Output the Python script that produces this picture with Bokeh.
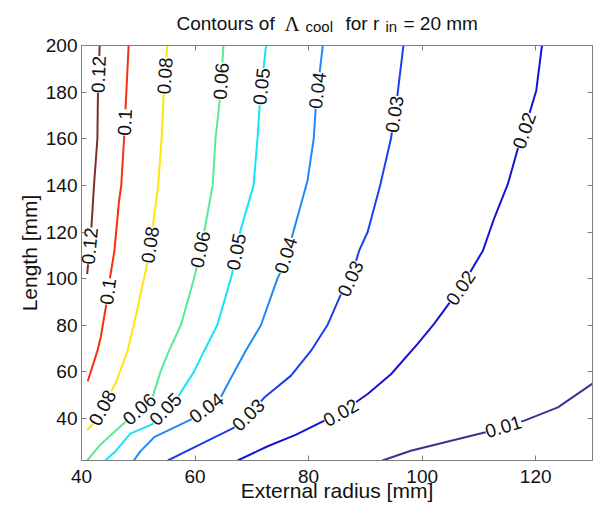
import numpy as np
from bokeh.plotting import figure
from bokeh.layouts import column
from bokeh.models import Range1d, LinearAxis, FixedTicker, ColumnDataSource, LabelSet
from bokeh.embed import file_html
from bokeh.resources import INLINE
from bokeh.core.properties import value

# ---------------- data ----------------
levels = ["0.01", "0.02", "0.03", "0.04", "0.05", "0.06", "0.08", "0.1", "0.12"]
level_colors = ["#35358f", "#1414d2", "#1b3fef", "#1f8af2", "#14e4f8",
                "#55eb95", "#fde60a", "#f5300f", "#7a3030"]

c001_x = [93.0, 98.0, 105.1, 111.0, 114.3, 118.0, 123.9, 130.0]
c001_y = [22, 26.2, 30.5, 34, 36.5, 39.1, 44.8, 55]

c002_x = [67.5, 72.7, 77.7, 82.7, 85.7, 90.4, 94.5, 99.2, 102.1, 105.1, 106.8,
          110.7, 112.7, 115.1, 117.1, 118.0, 120.1, 121.1]
c002_y = [22, 28, 33, 39, 42.5, 50.5, 59, 72, 80.6, 90.6, 96,
          112, 126, 140.6, 158, 163.5, 180.7, 200]

c003_x = [55.2, 61.0, 66.8, 69.4, 72.2, 76.9, 80.4, 83.3, 85.7, 87.4, 88.9,
          90.4, 92.6, 94.5, 95.6, 96.7]
c003_y = [22, 29, 36, 41.5, 49, 58.4, 69, 80, 93.4, 100, 112,
          120, 140, 160, 178, 200]

c004_x = [49.2, 50.4, 52.8, 56.2, 59.6, 62.0, 64.5, 66.9, 68.9, 71.6, 74.5,
          75.1, 77.2, 79.8, 80.9, 81.3, 82.5]
c004_y = [22, 26, 32, 36, 40, 44.5, 49, 60, 69, 80, 100,
          103, 119, 142, 160, 175, 200]

c005_x = [44.2, 46.0, 48.6, 52.5, 54.8, 56.9, 59.8, 61.6, 63.9, 66.3, 66.6,
          68.0, 70.3, 71.0, 71.4, 72.5]
c005_y = [22, 26, 33.5, 37.6, 44, 49, 60, 69, 80, 100, 103,
          120.6, 140, 160, 175, 200]

c006_x = [41.0, 43.4, 46.6, 50.2, 52.5, 53.9, 55.4, 57.5, 59.8, 60.4, 61.6,
          63.1, 63.6, 64.5, 65.0]
c006_y = [22, 29, 36, 44, 49, 60, 69, 80, 100, 106, 120,
          140, 160, 180, 200]

c008_x = [41.0, 42.5, 43.7, 46.0, 48.1, 49.2, 51.0, 51.7, 52.5, 53.5, 54.1, 54.5, 55.1]
c008_y = [35, 39, 44.6, 55, 69, 80, 100, 108, 121.5, 140, 160, 180, 200]

c010_x = [41.1, 42.8, 43.4, 44.3, 45.0, 45.8, 46.6, 47.0, 47.5, 47.9, 48.3]
c010_y = [56, 69, 75, 88, 100, 112, 133, 140, 160, 180, 200]

c012_x = [41.0, 41.7, 42.2, 42.8, 42.9, 43.2]
c012_y = [102, 120, 140, 160, 180, 200]

# heights (Length, mm) at which each contour carries its inline label
lab001_y = [36.5]
lab002_y = [42.5, 96, 163.5]
lab003_y = [41.5, 100, 170.5]
lab004_y = [44.5, 110, 180.7]
lab005_y = [44, 111.5, 182.4]
lab006_y = [44, 112.5, 184.7]
lab008_y = [44.6, 114.5, 187]
lab010_y = [94.5, 167]
lab012_y = [114, 187.6]

x_ticks = [40, 60, 80, 100, 120]
y_ticks = [40, 60, 80, 100, 120, 140, 160, 180, 200]

title_parts = ["Contours of", "\u039b", "cool", "for r", "in", "= 20 mm"]

contours_x = [c001_x, c002_x, c003_x, c004_x, c005_x, c006_x, c008_x, c010_x, c012_x]
contours_y = [c001_y, c002_y, c003_y, c004_y, c005_y, c006_y, c008_y, c010_y, c012_y]
labels_y = [lab001_y, lab002_y, lab003_y, lab004_y, lab005_y, lab006_y, lab008_y, lab010_y, lab012_y]

# ---------------- layout constants ----------------
W = 594
BL, BR = 81, 2
TITLE_H = 35
TOP_GAP, BOTTOM = 10, 47
FW, FH = W - BL - BR, 415
X0, X1, Y0, Y1 = 40, 130, 22, 200
AX = "#7f7f7f"
FONT = "Liberation Sans"
INK = "#111111"

# ---------------- title strip (text with subscripts) ----------------
t = figure(width=W, height=TITLE_H,
           x_range=Range1d(0, FW), y_range=Range1d(0, TITLE_H),
           output_backend="svg", toolbar_location=None, tools="",
           x_axis_location=None, y_axis_location=None,
           min_border_left=BL, min_border_right=BR, min_border_top=0, min_border_bottom=0,
           outline_line_color=None,
           background_fill_color="white", border_fill_color="white")
t.xgrid.visible = False
t.ygrid.visible = False
# (x from the plot box's left edge, height from strip bottom, font, size)
part_style = [
    (95, 11.7, FONT, "19px"),
    (203, 11.7, "Liberation Serif", "21px"),
    (224, 8.7, FONT, "15px"),
    (264, 11.7, FONT, "19px"),
    (304, 8.7, FONT, "15px"),
    (322, 11.7, FONT, "19px"),
]
for txt, (x, y, f, fs) in zip(title_parts, part_style):
    t.text(x=[x], y=[y], text=[txt], text_font=value(f), text_font_size=value(fs),
           text_color=INK, text_baseline="alphabetic", text_align="left")

# ---------------- main figure ----------------
p = figure(width=W, height=TOP_GAP + FH + BOTTOM,
           x_range=Range1d(X0, X1), y_range=Range1d(Y0, Y1),
           output_backend="svg", toolbar_location=None, tools="",
           min_border_left=BL, min_border_right=BR, min_border_top=TOP_GAP,
           min_border_bottom=BOTTOM,
           background_fill_color="white", border_fill_color="white",
           outline_line_color=AX)
p.xgrid.visible = False
p.ygrid.visible = False


def style_axis(ax, ticks, show_labels):
    ax.ticker = FixedTicker(ticks=ticks)
    ax.axis_line_color = AX
    ax.major_tick_line_color = AX
    ax.major_tick_in = 5
    ax.major_tick_out = 0
    ax.minor_tick_line_color = None
    ax.major_label_text_font = FONT
    ax.axis_label_text_font = FONT
    ax.axis_label_text_font_style = "normal"
    ax.axis_label_text_color = INK
    if show_labels:
        ax.major_label_text_font_size = "19px"
        ax.major_label_text_color = INK
    else:
        ax.major_label_text_font_size = "0px"
        ax.major_label_text_color = None
        ax.major_label_standoff = 0


style_axis(p.xaxis[0], x_ticks, True)
style_axis(p.yaxis[0], y_ticks, True)
p.xaxis[0].axis_label = "External radius [mm]"
p.xaxis[0].axis_label_text_font_size = "21px"
p.xaxis[0].major_label_standoff = 9
p.xaxis[0].axis_label_standoff = -7
p.yaxis[0].axis_label = "Length [mm]"
p.yaxis[0].axis_label_text_font_size = "21px"
p.yaxis[0].major_label_standoff = 4
p.yaxis[0].axis_label_standoff = 2

top_ax = LinearAxis()
style_axis(top_ax, x_ticks, False)
p.add_layout(top_ax, "above")
right_ax = LinearAxis()
style_axis(right_ax, y_ticks, False)
p.add_layout(right_ax, "right")

# ---------------- contour lines ----------------
sx = FW / (X1 - X0)
sy = FH / (Y1 - Y0)
lx, ly, lt, la = [], [], [], []
for xs, ys, lev, col, labs in zip(contours_x, contours_y, levels, level_colors, labels_y):
    p.line(xs, ys, line_color=col, line_width=2)
    xs_a = np.asarray(xs, float)
    ys_a = np.asarray(ys, float)
    for yl in labs:
        xl = float(np.interp(yl, ys_a, xs_a))
        d = 3.0
        xa = float(np.interp(yl - d, ys_a, xs_a))
        xb = float(np.interp(yl + d, ys_a, xs_a))
        ang = float(np.arctan2(2 * d * sy, (xb - xa) * sx))
        if ang > np.pi / 2:
            ang -= np.pi
        lx.append(xl)
        ly.append(yl)
        lt.append(lev)
        la.append(ang)

lab_src = ColumnDataSource(dict(x=lx, y=ly, text=lt, angle=la))
p.add_layout(LabelSet(x="x", y="y", text="text", angle="angle", source=lab_src,
                      text_align="center", text_baseline="middle",
                      text_font=value(FONT), text_font_size=value("19px"),
                      text_color=INK,
                      background_fill_color="white", background_fill_alpha=1.0))

layout = column(t, p, spacing=0)
open("out.html", "w").write(file_html(layout, INLINE))
